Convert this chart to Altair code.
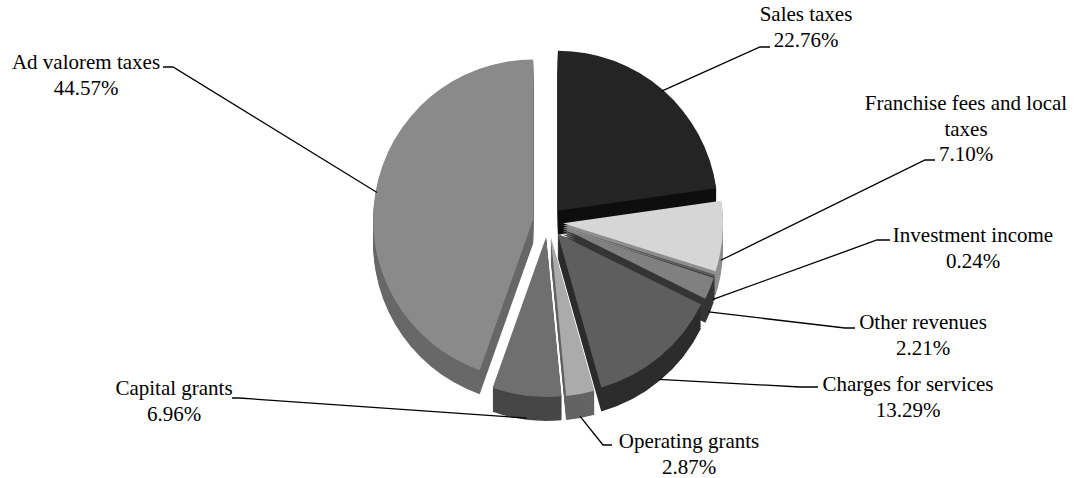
import altair as alt
import numpy as np
import pandas as pd

# ---- data ----
categories = ["Sales taxes", "Franchise fees and local taxes", "Investment income",
              "Other revenues", "Charges for services", "Operating grants",
              "Capital grants", "Ad valorem taxes"]
shares = [22.76, 7.10, 0.24, 2.21, 13.29, 2.87, 6.96, 44.57]
label_lines = ["Sales taxes", "Franchise fees and local\ntaxes", "Investment income",
               "Other revenues", "Charges for services", "Operating grants",
               "Capital grants", "Ad valorem taxes"]

# ---- styles ----
top_colors = ["#242424", "#d6d6d6", "#5a5a5a", "#808080", "#5e5e5e", "#ababab", "#6f6f6f", "#8a8a8a"]
side_colors = ["#0e0e0e", "#8e8e8e", "#3a3a3a", "#353535", "#2c2c2c", "#636363", "#464646", "#686868"]

# ---- layout (pie-radius units, pie centre at origin; first text line centre) ----
label_pos = [(1.6125, 1.29375), (2.6125, 0.7375), (2.65625, -0.0875), (2.34375, -0.63125),
             (2.25, -1.01875), (0.88125, -1.375), (-2.3375, -1.04375), (-2.8875, 0.99375)]
elbow_pos = [(1.325, 1.09375), (2.35625, 0.3875), (2.05625, -0.1125), (1.85625, -0.6625),
             (1.575, -1.03125), (0.34375, -1.39375), (-1.93125, -1.1), (-2.34375, 0.96875)]
tail_pos = [(1.3875, 1.09375), (2.41875, 0.3875), (2.1375, -0.1125), (1.91875, -0.6625),
            (1.6875, -1.03125), (0.40, -1.39375), (-1.975, -1.1), (-2.40625, 0.96875)]

EXPLODE = 0.094
DEPTH = 0.15
RADIUS_PX = 160
XDOM = [-3.425, 3.3125]
YDOM = [-1.6, 1.3875]
FONT = "Liberation Serif, Times New Roman, DejaVu Serif, serif"

frac = np.array(shares) / np.sum(shares)
end = np.cumsum(frac) * 2 * np.pi
start = end - frac * 2 * np.pi
mid = (start + end) / 2
cx = EXPLODE * np.sin(mid)
cy = EXPLODE * np.cos(mid)

# draw back-to-front: side walls first then the top face of each slice
rows = []
for i in np.argsort(-np.cos(mid)):
    for d in np.arange(DEPTH, 0, -0.0125):
        rows.append(dict(name=categories[i], x=cx[i], y=cy[i] - d,
                         t0=start[i], t1=end[i], fill=side_colors[i]))
    rows.append(dict(name=categories[i], x=cx[i], y=cy[i],
                     t0=start[i], t1=end[i], fill=top_colors[i]))
arc_df = pd.DataFrame(rows)

line_rows = []
for i in range(len(categories)):
    ax = cx[i] + 0.99 * np.sin(mid[i])
    ay = cy[i] + 0.99 * np.cos(mid[i]) - (DEPTH if np.cos(mid[i]) < 0 else 0)
    pts = [(ax, ay), elbow_pos[i], tail_pos[i]]
    for k, (px, py) in enumerate(pts):
        line_rows.append(dict(name=categories[i], seq=k, x=px, y=py))
line_df = pd.DataFrame(line_rows)

label_df = pd.DataFrame({
    "name": categories,
    "text": [f"{l}\n{s:.2f}%" for l, s in zip(label_lines, shares)],
    "x": [p[0] for p in label_pos],
    "y": [p[1] for p in label_pos],
})

xs = alt.Scale(domain=XDOM, nice=False, zero=False)
ys = alt.Scale(domain=YDOM, nice=False, zero=False)

arcs = alt.Chart(arc_df).mark_arc(radius=RADIUS_PX).encode(
    x=alt.X("x:Q", scale=xs, axis=None),
    y=alt.Y("y:Q", scale=ys, axis=None),
    theta=alt.Theta("t0:Q", scale=None, stack=False),
    theta2="t1:Q",
    color=alt.Color("fill:N", scale=None),
)

lines = alt.Chart(line_df).mark_line(color="black", strokeWidth=1.3).encode(
    x=alt.X("x:Q", scale=xs, axis=None),
    y=alt.Y("y:Q", scale=ys, axis=None),
    detail="name:N",
    order="seq:Q",
)

texts = alt.Chart(label_df).mark_text(
    align="center", baseline="middle", lineBreak="\n", lineHeight=25.5,
    font=FONT, fontSize=21, color="black"
).encode(
    x=alt.X("x:Q", scale=xs, axis=None),
    y=alt.Y("y:Q", scale=ys, axis=None),
    text="text:N",
)

chart = alt.layer(arcs, lines, texts).properties(
    width=1078, height=478, padding=0, autosize="none", background="white"
).configure_view(strokeWidth=0)

chart.save("out.html", embed_options={"renderer": "svg", "actions": False})
